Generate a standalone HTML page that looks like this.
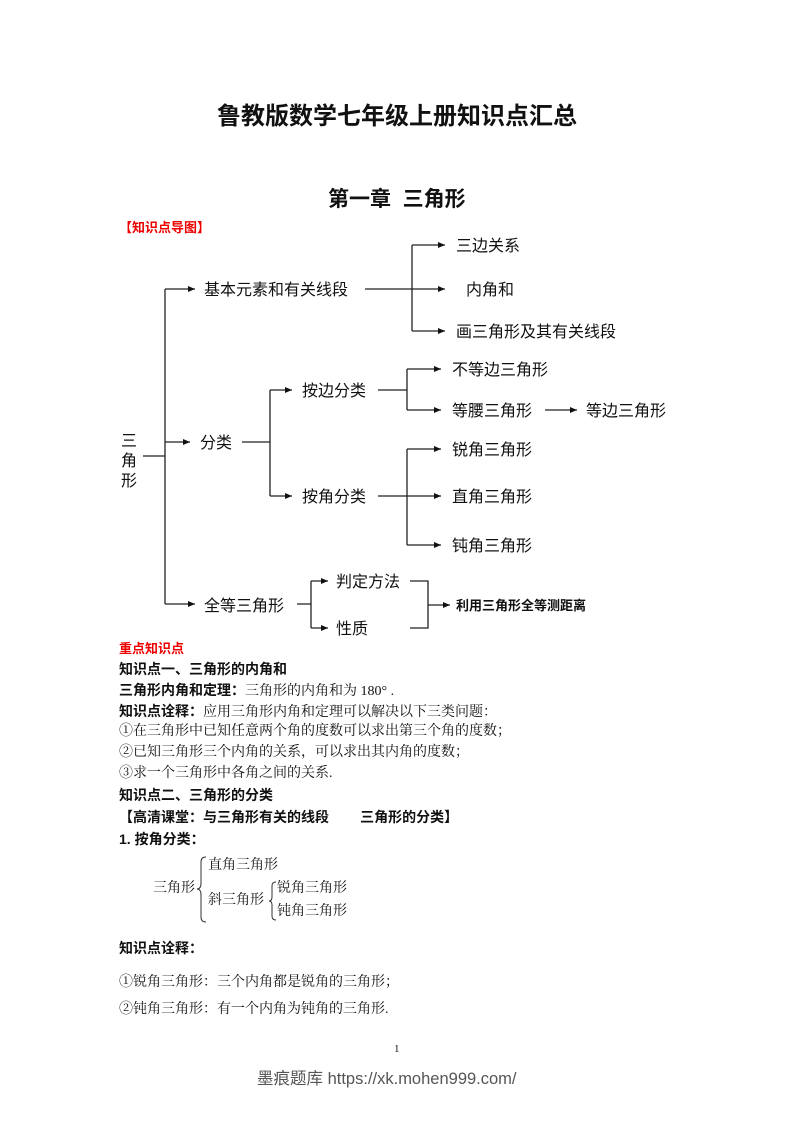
<!DOCTYPE html>
<html><head><meta charset="utf-8"><style>
body{margin:0;background:#fff;}
#p{position:relative;width:793px;height:1122px;overflow:hidden;font-family:"Liberation Serif","Noto Serif CJK SC","Noto Sans CJK SC",serif;color:#111;}
.t{position:absolute;white-space:nowrap;line-height:1;}
.b{font-family:"Liberation Sans","Noto Sans CJK SC",sans-serif;font-weight:bold;}
.n{font-size:14px;}
svg{position:absolute;left:0;top:0;}
</style></head><body><div id="p">
<div class="t b" style="left:217px;top:105px;font-size:24px;">鲁教版数学七年级上册知识点汇总</div>
<div class="t b" style="left:328px;top:189px;font-size:21px;">第一章&nbsp; 三角形</div>
<div class="t b" style="left:119px;top:221px;font-size:13px;color:#e00;">【知识点导图】</div>

<svg width="793" height="1122" viewBox="0 0 793 1122">
<defs><marker id="a" markerWidth="8" markerHeight="8" refX="7" refY="4" orient="auto" markerUnits="userSpaceOnUse"><path d="M0,1 L7,4 L0,7 z" fill="#111"/></marker></defs>
<g stroke="#222" stroke-width="1.3" fill="none">
<path d="M143,456 H165 M165,289 V604"/>
<path d="M165,289 H195" marker-end="url(#a)"/>
<path d="M165,442 H190" marker-end="url(#a)"/>
<path d="M165,604 H195" marker-end="url(#a)"/>
<path d="M365,289 H445" marker-end="url(#a)"/>
<path d="M412,245 V331"/>
<path d="M412,245 H445" marker-end="url(#a)"/>
<path d="M412,331 H445" marker-end="url(#a)"/>
<path d="M242,442 H270 M270,390 V496"/>
<path d="M270,390 H292" marker-end="url(#a)"/>
<path d="M270,496 H292" marker-end="url(#a)"/>
<path d="M378,390 H407 M407,369 V410"/>
<path d="M407,369 H441" marker-end="url(#a)"/>
<path d="M407,410 H441" marker-end="url(#a)"/>
<path d="M545,410 H577" marker-end="url(#a)"/>
<path d="M378,496 H441" marker-end="url(#a)"/>
<path d="M407,449 V545"/>
<path d="M407,449 H441" marker-end="url(#a)"/>
<path d="M407,545 H441" marker-end="url(#a)"/>
<path d="M297,604 H311 M311,581 V628"/>
<path d="M311,581 H328" marker-end="url(#a)"/>
<path d="M311,628 H328" marker-end="url(#a)"/>
<path d="M410,581 H428 V628 H410"/>
<path d="M428,605 H450" marker-end="url(#a)"/>
</g>
<g font-family="Liberation Sans, Noto Sans CJK SC, sans-serif" font-size="16" fill="#111">
<text x="121" y="446">三</text><text x="121" y="466">角</text><text x="121" y="486">形</text>
<text x="204" y="295">基本元素和有关线段</text>
<text x="456" y="251">三边关系</text>
<text x="466" y="295">内角和</text>
<text x="456" y="337">画三角形及其有关线段</text>
<text x="200" y="448">分类</text>
<text x="302" y="396">按边分类</text>
<text x="302" y="502">按角分类</text>
<text x="452" y="375">不等边三角形</text>
<text x="452" y="416">等腰三角形</text>
<text x="586" y="416">等边三角形</text>
<text x="452" y="455">锐角三角形</text>
<text x="452" y="502">直角三角形</text>
<text x="452" y="551">钝角三角形</text>
<text x="204" y="611">全等三角形</text>
<text x="336" y="587">判定方法</text>
<text x="336" y="634">性质</text>
<text x="456" y="610" font-size="13" font-weight="bold">利用三角形全等测距离</text>
</g>
<g stroke="#333" stroke-width="1" fill="none">
<path d="M206,857 Q201,857 201,862 V883 Q201,889 197,889 Q201,889 201,895 V917 Q201,922 206,922"/>
<path d="M276,882 Q272,882 272,886 V897 Q272,901 269,901 Q272,901 272,905 V916 Q272,920 276,920"/>
</g>
</svg>

<div class="t b" style="left:119px;top:642px;font-size:13px;color:#e00;">重点知识点</div>
<div class="t b n" style="left:119px;top:662px;">知识点一、三角形的内角和</div>
<div class="t n" style="left:119px;top:683px;"><span class="b">三角形内角和定理：</span>三角形的内角和为 180°&nbsp;.</div>
<div class="t n" style="left:119px;top:704px;"><span class="b">知识点诠释：</span>应用三角形内角和定理可以解决以下三类问题：</div>
<div class="t n" style="left:119px;top:725px;">①在三角形中已知任意两个角的度数可以求出第三个角的度数；</div>
<div class="t n" style="left:119px;top:746px;">②已知三角形三个内角的关系，可以求出其内角的度数；</div>
<div class="t n" style="left:119px;top:767px;">③求一个三角形中各角之间的关系.</div>
<div class="t b n" style="left:119px;top:788px;">知识点二、三角形的分类</div>
<div class="t b n" style="left:119px;top:810px;">【高清课堂：与三角形有关的线段&nbsp;&nbsp;&nbsp;&nbsp;&nbsp;&nbsp;&nbsp; 三角形的分类】</div>
<div class="t b n" style="left:119px;top:832px;">1. 按角分类：</div>
<div class="t n" style="left:208px;top:859px;">直角三角形</div>
<div class="t n" style="left:153px;top:882px;">三角形</div>
<div class="t n" style="left:208px;top:894px;">斜三角形</div>
<div class="t n" style="left:277px;top:882px;">锐角三角形</div>
<div class="t n" style="left:277px;top:905px;">钝角三角形</div>
<div class="t b n" style="left:119px;top:941px;">知识点诠释：</div>
<div class="t n" style="left:119px;top:976px;">①锐角三角形：三个内角都是锐角的三角形；</div>
<div class="t n" style="left:119px;top:1003px;">②钝角三角形：有一个内角为钝角的三角形.</div>
<div class="t" style="left:394px;top:1044px;font-size:11px;">1</div>
<div class="t" style="left:257px;top:1071px;font-size:16.5px;color:#555;font-family:'Liberation Sans','Noto Sans CJK SC',sans-serif;">墨痕题库 https://xk.mohen999.com/</div>
</div></body></html>
